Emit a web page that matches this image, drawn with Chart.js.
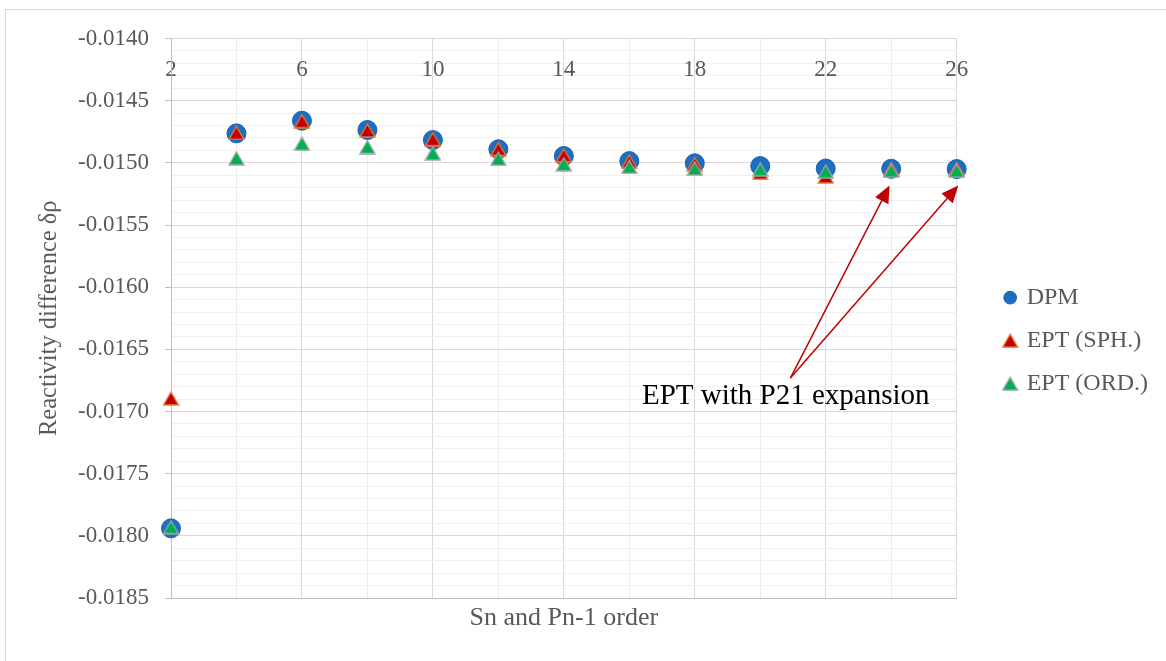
<!DOCTYPE html>
<html>
<head>
<meta charset="utf-8">
<script src="https://cdn.jsdelivr.net/npm/chart.js@4"></script>
<style>
  html, body { margin: 0; padding: 0; background: #fff; overflow: hidden; }
  #wrap { position: relative; width: 1166px; height: 661px; }
  #frame { position: absolute; left: 5px; top: 9px; width: 1200px; height: 700px; border: 1px solid #d9d9d9; }
  #grafico { position: absolute; left: 0; top: 0; }
</style>
</head>
<body>
<div id="wrap">
  <div id="frame"></div>
  <canvas id="grafico" width="1166" height="661"></canvas>
</div>
<script>
// orders Sn / Pn-1
const ordenes = [2, 4, 6, 8, 10, 12, 14, 16, 18, 20, 22, 24, 26]
const dpm = [-0.01794, -0.014763, -0.014661, -0.014736, -0.014817, -0.014891, -0.014945, -0.014986, -0.015004, -0.015026, -0.015046, -0.015048, -0.01505]
const eptSph = [-0.016895, -0.01476, -0.014665, -0.01474, -0.01481, -0.01489, -0.01494, -0.01499, -0.01501, -0.01508, -0.01511, -0.01505, -0.01505]
const eptOrd = [-0.01793, -0.014964, -0.014846, -0.014873, -0.014924, -0.014967, -0.015011, -0.015032, -0.015046, -0.015053, -0.01507, -0.015064, -0.015064]
const xTickLabels = [2, 6, 10, 14, 18, 22, 26]

// annotation (data coordinates)
const notaTexto = 'EPT with P21 expansion'
const notaPos = { x: 20.78, y: -0.016876 }
const flechaDesde = { x: 20.92, y: -0.016731 }
const flechaHasta = [{ x: 23.95, y: -0.015183 }, { x: 26.05, y: -0.015183 }]

const gris = '#595959'
const serif = 'Liberation Serif, Times New Roman, serif'

const puntos = (serie) => ordenes.map((x, i) => ({ x: x, y: serie[i] }))
const esMayorY = (v) => Math.round(v * 10000) % 5 === 0
const esMayorX = (v) => (Math.round(v) - 2) % 4 === 0

// triangle marker centred on its bounding box (like Excel)
function triangulo(relleno, borde) {
    const c = document.createElement('canvas')
    c.width = 17
    c.height = 15
    const g = c.getContext('2d')
    g.beginPath()
    g.moveTo(8.5, 1)
    g.lineTo(16, 14)
    g.lineTo(1, 14)
    g.closePath()
    g.fillStyle = relleno
    g.fill()
    g.lineWidth = 1.3
    g.strokeStyle = borde
    g.stroke()
    return c
}

const notaPlugin = {
    id: 'nota',
    afterDraw(chart) {
        const ctx = chart.ctx
        const sx = chart.scales.x
        const sy = chart.scales.y
        const x0 = sx.getPixelForValue(flechaDesde.x)
        const y0 = sy.getPixelForValue(flechaDesde.y)
        ctx.save()
        ctx.strokeStyle = '#c00000'
        ctx.fillStyle = '#c00000'
        ctx.lineWidth = 1.5
        flechaHasta.forEach((p) => {
            const x1 = sx.getPixelForValue(p.x)
            const y1 = sy.getPixelForValue(p.y)
            const ang = Math.atan2(y1 - y0, x1 - x0)
            const largo = 17
            const ancho = 7.5
            const bx = x1 - Math.cos(ang) * largo
            const by = y1 - Math.sin(ang) * largo
            ctx.beginPath()
            ctx.moveTo(x0, y0)
            ctx.lineTo(bx, by)
            ctx.stroke()
            ctx.beginPath()
            ctx.moveTo(x1, y1)
            ctx.lineTo(bx + Math.sin(ang) * ancho, by - Math.cos(ang) * ancho)
            ctx.lineTo(bx - Math.sin(ang) * ancho, by + Math.cos(ang) * ancho)
            ctx.closePath()
            ctx.fill()
        })
        ctx.fillStyle = '#000'
        ctx.font = '29px ' + serif
        ctx.textAlign = 'center'
        ctx.textBaseline = 'middle'
        ctx.fillText(notaTexto, sx.getPixelForValue(notaPos.x), sy.getPixelForValue(notaPos.y))
        ctx.restore()
    }
}

const datasets = [
    {
        label: 'DPM',
        data: puntos(dpm),
        pointStyle: 'circle',
        pointRadius: 9.5,
        backgroundColor: '#1b6ec2',
        borderColor: '#1a62b0',
        borderWidth: 1,
        order: 3
    },
    {
        label: 'EPT (SPH.)',
        data: puntos(eptSph),
        pointStyle: triangulo('#c00000', '#ed7d31'),
        backgroundColor: '#c00000',
        borderColor: '#ed7d31',
        borderWidth: 1.5,
        order: 2
    },
    {
        label: 'EPT (ORD.)',
        data: puntos(eptOrd),
        pointStyle: triangulo('#00b050', '#a5a5a5'),
        backgroundColor: '#00b050',
        borderColor: '#a5a5a5',
        borderWidth: 1.5,
        order: 1
    }
]
datasets.forEach((d) => { d.xAxisID = 'x'; d.yAxisID = 'y'; d.showLine = false; d.clip = false })

const config = {
    type: 'scatter',
    data: { datasets },
    plugins: [notaPlugin],
    options: {
        responsive: false,
        animation: false,
        events: [],
        layout: { padding: { left: 35, top: 38.5, right: 8, bottom: 27.4 } },
        plugins: {
            tooltip: { enabled: false },
            legend: {
                position: 'right',
                title: { display: true, text: '', font: { size: 6 }, padding: { top: 1, bottom: 1 } },
                labels: {
                    usePointStyle: true,
                    boxWidth: 9,
                    boxHeight: 9,
                    padding: 19,
                    color: gris,
                    font: { family: serif, size: 24 },
                    sort: (a, b) => a.datasetIndex - b.datasetIndex
                }
            }
        },
        scales: {
            x: {
                type: 'linear',
                position: 'bottom',
                min: 2,
                max: 26,
                ticks: { display: false, stepSize: 2 },
                grid: {
                    drawTicks: false,
                    color: (c) => esMayorX(c.tick.value) ? '#d9d9d9' : '#ececec'
                },
                border: { color: '#bfbfbf' },
                title: {
                    display: true,
                    text: 'Sn and Pn-1 order',
                    color: gris,
                    font: { family: serif, size: 26 },
                    padding: 0
                },
                afterFit(s) { s.height = 35.6 }
            },
            xt: {
                type: 'linear',
                position: 'top',
                min: 2,
                max: 26,
                afterBuildTicks(s) { s.ticks = xTickLabels.map((v) => ({ value: v })) },
                ticks: {
                    color: gris,
                    font: { family: serif, size: 23 },
                    mirror: true,
                    padding: 17.7,
                    maxRotation: 0,
                    autoSkip: false
                },
                grid: { display: false },
                border: { display: false },
                afterFit(s) { s.height = 0 }
            },
            y: {
                type: 'linear',
                position: 'left',
                min: -0.0185,
                max: -0.0140,
                ticks: {
                    stepSize: 0.0001,
                    autoSkip: false,
                    color: gris,
                    font: { family: serif, size: 23 },
                    padding: 16,
                    callback: (v) => esMayorY(v) ? v.toFixed(4) : ''
                },
                grid: {
                    tickLength: 6,
                    color: (c) => esMayorY(c.tick.value) ? '#d9d9d9' : '#f0f0f0',
                    tickColor: (c) => esMayorY(c.tick.value) ? '#bfbfbf' : 'rgba(0,0,0,0)'
                },
                border: { color: '#bfbfbf' },
                title: {
                    display: true,
                    text: 'Reactivity difference δρ',
                    color: gris,
                    font: { family: serif, size: 24.5 },
                    padding: { top: 0, bottom: 14 }
                },
                afterFit(s) { s.width = 136 }
            },
            yr: {
                type: 'linear',
                position: 'right',
                ticks: { display: false },
                grid: { display: false },
                border: { display: false },
                afterFit(s) { s.width = 30 }
            }
        }
    }
}

const grafico = document.querySelector('#grafico')
new Chart(grafico, config)
</script>
</body>
</html>
